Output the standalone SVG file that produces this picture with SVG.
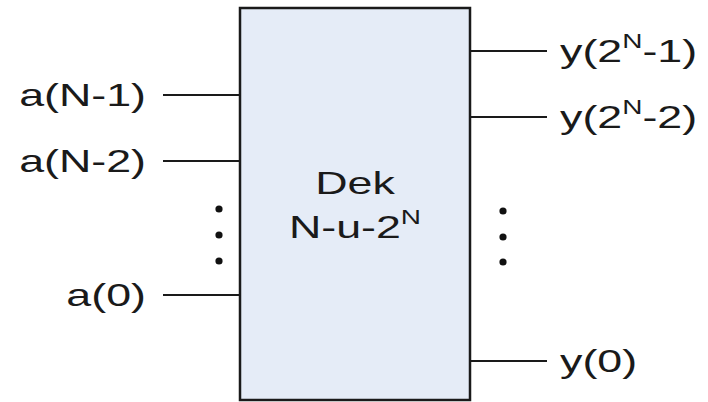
<svg xmlns="http://www.w3.org/2000/svg" width="708" height="402" viewBox="0 0 708 402">
<style>
.lbl{font-family:"Liberation Sans",Arial,sans-serif;font-size:32px;fill:#1a1a1a}
.sup{font-size:20px}
.wire{stroke:#1a1a1a;stroke-width:2.2;fill:none}
.dot{fill:#111}
</style>
<rect width="708" height="402" fill="#ffffff"/>
<g id="decoder">
<rect x="240" y="8" width="230" height="392" fill="#e5ecf7" stroke="#1a1a1a" stroke-width="2.5"/>
<text class="lbl" text-anchor="middle" transform="translate(355,194) scale(1.4,1)">Dek</text>
<text class="lbl" text-anchor="middle" transform="translate(355,238) scale(1.4,1)">N-u-2<tspan class="sup" dy="-14">N</tspan></text>
</g>
<g id="connectors">
<line class="wire" x1="163" y1="95" x2="240" y2="95"/>
<line class="wire" x1="163" y1="161" x2="240" y2="161"/>
<line class="wire" x1="163" y1="295" x2="240" y2="295"/>
<line class="wire" x1="470" y1="51" x2="547" y2="51"/>
<line class="wire" x1="470" y1="117" x2="547" y2="117"/>
<line class="wire" x1="470" y1="361" x2="547" y2="361"/>
</g>
<g id="in-labels">
<text class="lbl" text-anchor="end" transform="translate(146,106) scale(1.4,1)">a(N-1)</text>
<text class="lbl" text-anchor="end" transform="translate(146,172) scale(1.4,1)">a(N-2)</text>
<text class="lbl" text-anchor="end" transform="translate(146,306) scale(1.4,1)">a(0)</text>
</g>
<g id="out-labels">
<text class="lbl" transform="translate(560,62) scale(1.4,1)">y(2<tspan class="sup" dy="-14">N</tspan><tspan dy="14">-1)</tspan></text>
<text class="lbl" transform="translate(560,128) scale(1.4,1)">y(2<tspan class="sup" dy="-14">N</tspan><tspan dy="14">-2)</tspan></text>
<text class="lbl" transform="translate(560,372) scale(1.4,1)">y(0)</text>
</g>
<g id="ellipsis-in">
<circle class="dot" cx="219" cy="209" r="3.6"/>
<circle class="dot" cx="219" cy="235" r="3.6"/>
<circle class="dot" cx="219" cy="261" r="3.6"/>
</g>
<g id="ellipsis-out">
<circle class="dot" cx="503" cy="211" r="3.6"/>
<circle class="dot" cx="503" cy="237" r="3.6"/>
<circle class="dot" cx="503" cy="262" r="3.6"/>
</g>
</svg>
